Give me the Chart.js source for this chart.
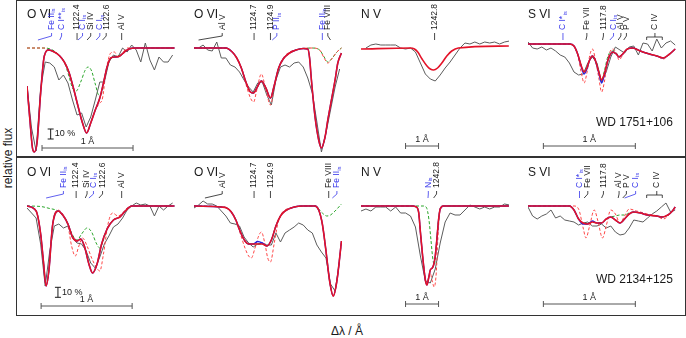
<!DOCTYPE html>
<html lang="en">
<head>
<meta charset="utf-8">
<title>Line fits WD 1751+106 / WD 2134+125</title>
<script src="https://cdn.jsdelivr.net/npm/chart.js@4.4.1/dist/chart.umd.min.js"></script>
<style>
  body { margin: 0; background: #fff; }
  #fig { position: relative; width: 686px; height: 338px; overflow: hidden;
         font-family: "Liberation Sans", Arial, Helvetica, sans-serif; color: #1a1a1a; }
  #fig canvas { position: absolute; }
  .frame { position: absolute; left: 16px; top: 0; width: 670px; height: 316px;
           border: 1.5px solid #333; box-sizing: border-box; }
  .divider { position: absolute; left: 16px; top: 156px; width: 670px; height: 1.5px; background: #333; }
  .ytitle { position: absolute; left: -42px; top: 151px; width: 100px; height: 14px; line-height: 14px;
            text-align: center; font-size: 12px; transform: rotate(-90deg); }
  .xtitle { position: absolute; left: 297px; top: 324px; width: 100px; height: 14px; line-height: 14px;
            text-align: center; font-size: 12px; }
</style>
</head>
<body>
<div id="fig">
  <div class="frame"></div>
  <div class="divider"></div>
  <div class="ytitle">relative flux</div>
  <div class="xtitle">&Delta;&lambda; / &Aring;</div>
</div>
<script>
// Wavelength grids (Å from the left edge of each panel)
const gridShort = [0, 0.05, 0.1, 0.15, 0.2, 0.25, 0.3, 0.35, 0.4, 0.45, 0.5, 0.55, 0.6, 0.65, 0.7, 0.75,
                   0.8, 0.85, 0.9, 0.95, 1.0, 1.05, 1.1, 1.15, 1.2, 1.25, 1.3, 1.35, 1.4, 1.45, 1.5, 1.55, 1.6];
const gridNV = [0, 0.15, 0.3, 0.45, 0.6, 0.75, 0.9, 1.05, 1.2, 1.35, 1.5, 1.65, 1.8, 1.95, 2.1, 2.25,
                2.4, 2.55, 2.7, 2.85, 3.0, 3.15, 3.3, 3.45, 3.6, 3.75, 3.9, 4.05, 4.2, 4.35, 4.5];

// Observed spectra (relative flux on the grids)
const obsA = [0.62, 0.2, -0.03, 0.6, 0.86, 0.85, 0.81, 0.68, 0.73, 0.65, 0.48, 0.33, 0.35, 0.21, 0.31, 0.48,
              0.66, 0.66, 0.86, 0.93, 0.91, 1.0, 0.96, 1.03, 0.98, 0.86, 1.05, 0.88, 0.78, 0.91, 0.86, 0.86, 0.93];
const obsB = [1.0, 1.0, 1.03, 0.98, 0.97, 1.06, 0.9, 0.9, 0.83, 0.81, 0.76, 0.68, 0.61, 0.56, 0.65, 0.66,
              0.53, 0.43, 0.68, 0.81, 0.83, 0.81, 0.85, 0.86, 0.81, 0.7, 0.55, 0.26, -0.04, 0.15, 0.38, 0.61, 0.79];
const obsC = [null, 1.0, 1.03, 1.04, 1.03, 1.03, 1.03, 1.03, 1.0, 0.99, 1.0, 0.96, 0.85, 0.74, 0.69, 0.67,
              0.73, 0.8, 0.86, 0.93, 1.0, 1.05, 1.04, 1.06, 1.04, 1.06, 1.05, 1.06, 1.04, 1.06, 1.07];
const obsD = [1.06, 1.0, 0.99, 1.01, 0.98, 1.0, 0.97, 0.93, 0.91, 0.85, 0.76, 0.73, 0.74, 0.85, 0.91, 0.85,
              0.66, 0.76, 0.91, 1.01, 0.98, 0.95, 1.01, 1.02, 0.93, 1.05, 1.04, 0.97, 1.09, 1.0, 1.05, 1.07, 1.03];
const obsE = [0.98, 0.93, 0.88, 0.62, 0.2, 0.55, 0.8, 0.82, 0.78, 0.8, 0.68, 0.63, 0.62, 0.55, 0.43, 0.38,
              0.49, 0.62, 0.7, 0.79, 0.82, 0.88, 0.96, 1.0, 1.03, 1.01, 1.02, 1.0, 0.9, 1.0, 0.96, 1.0, 1.03];
const obsF = [0.98, 1.01, 1.05, 1.02, 1.02, 1.0, 0.95, 0.9, 0.83, 0.82, 0.8, 0.69, 0.63, 0.59, 0.62, 0.63,
              0.61, 0.61, 0.73, 0.64, 0.73, 0.76, 0.79, 0.83, 0.81, 0.76, 0.73, 0.61, 0.54, 0.48, 0.22, 0.15, 0.45];
const obsG = [0.95, 0.97, 0.95, 0.99, 0.99, 0.99, 0.95, 0.99, 0.93, 0.93, 0.9, 0.79, 0.5, 0.25, 0.23, 0.37,
              0.63, 0.84, 0.93, 0.91, 0.91, 0.96, 1.01, 0.99, 0.97, 0.99, 0.97, 0.99, 0.99, 1.02, 1.01];
const obsH = [0.99, 0.9, 0.87, 0.9, 0.92, 0.96, 0.88, 0.9, 0.86, 0.85, 0.84, 0.81, 0.83, 0.84, 0.8, 0.8,
              0.82, 0.78, 0.8, 0.74, 0.71, 0.72, 0.78, 0.86, 0.85, 0.84, 0.88, 0.92, 0.95, 0.99, 1.03, 0.94, 0.96];

// Model spectra [Δλ, flux]: fit = red, dash = red dashed, green = green dashed, blue = blue
const fitA = [[0,0.62],[0.03,0.3],[0.06,0.0],[0.08,-0.04],[0.11,0.05],[0.15,0.55],[0.19,0.92],[0.24,0.98],
  [0.3,0.96],[0.36,0.92],[0.41,0.86],[0.46,0.76],[0.51,0.6],[0.56,0.42],[0.61,0.25],[0.655,0.15],[0.7,0.25],
  [0.75,0.38],[0.8,0.5],[0.84,0.65],[0.88,0.81],[0.92,0.9],[0.97,0.91],[1.02,0.92],[1.07,0.96],[1.12,0.99],
  [1.2,1.0],[1.62,1.0]];
const dashA = [[0,1.0],[0.18,1.0],[0.24,0.98],[0.3,0.96],[0.36,0.92],[0.41,0.86],[0.46,0.76],[0.51,0.6],
  [0.56,0.42],[0.61,0.25],[0.655,0.15],[0.7,0.25],[0.75,0.38],[0.79,0.44],[0.83,0.5],[0.87,0.78],[0.92,0.95],
  [0.96,0.96],[1.0,0.91],[1.05,0.95],[1.1,1.0],[1.62,1.0]];
const greenA = [[0,1.0],[0.2,1.0],[0.3,0.97],[0.36,0.92],[0.41,0.86],[0.46,0.72],[0.5,0.6],[0.54,0.57],
  [0.59,0.66],[0.64,0.78],[0.67,0.81],[0.71,0.77],[0.75,0.64],[0.79,0.53],[0.82,0.55],[0.86,0.73],[0.9,0.86],
  [0.95,0.91],[1.0,0.92],[1.07,0.96],[1.12,0.99],[1.2,1.0],[1.62,1.0]];

const fitB = [[0,1.0],[0.35,1.0],[0.42,0.96],[0.47,0.9],[0.52,0.8],[0.57,0.66],[0.62,0.56],[0.655,0.55],
  [0.69,0.6],[0.74,0.67],[0.79,0.6],[0.84,0.5],[0.88,0.62],[0.93,0.8],[0.98,0.89],[1.05,0.95],[1.12,0.98],
  [1.2,0.995],[1.25,0.99],[1.27,0.9],[1.29,0.68],[1.33,0.31],[1.37,0.08],[1.4,0.0],[1.44,0.11],[1.47,0.28],
  [1.51,0.48],[1.55,0.68],[1.58,0.85],[1.62,0.95]];
const dashB = [[0,1.0],[0.35,1.0],[0.42,0.96],[0.47,0.9],[0.52,0.8],[0.57,0.64],[0.62,0.5],[0.655,0.46],
  [0.69,0.58],[0.74,0.74],[0.79,0.58],[0.84,0.43],[0.88,0.6],[0.93,0.8],[0.98,0.9],[1.05,0.96],[1.12,0.98],
  [1.2,0.995],[1.3,1.0],[1.38,0.98],[1.43,0.9],[1.47,0.85],[1.52,0.9],[1.57,0.96],[1.62,1.0]];
const greenB = [[0,1.0],[0.35,1.0],[0.42,0.96],[0.47,0.9],[0.52,0.8],[0.57,0.66],[0.62,0.56],[0.655,0.55],
  [0.69,0.6],[0.74,0.67],[0.79,0.6],[0.84,0.5],[0.88,0.62],[0.93,0.8],[0.98,0.89],[1.05,0.95],[1.12,0.98],
  [1.2,0.995],[1.3,1.0],[1.38,0.98],[1.43,0.91],[1.47,0.86],[1.52,0.9],[1.57,0.96],[1.62,1.0]];

const fitC = [[0,0.99],[1.5,1.0],[1.62,0.99],[1.72,0.96],[1.85,0.89],[2.0,0.82],[2.1,0.79],[2.2,0.78],
  [2.32,0.8],[2.45,0.85],[2.6,0.92],[2.75,0.97],[2.95,1.0],[4.48,1.02]];

const fitD = [[0,1.04],[0.45,1.04],[0.5,1.02],[0.54,0.94],[0.58,0.82],[0.61,0.76],[0.64,0.8],[0.67,0.88],
  [0.7,0.92],[0.73,0.88],[0.77,0.76],[0.8,0.68],[0.83,0.74],[0.87,0.88],[0.92,0.96],[0.96,0.94],[0.99,0.91],
  [1.03,0.94],[1.08,0.99],[1.14,1.0],[1.22,0.97],[1.32,0.94],[1.4,0.92],[1.47,0.9],[1.54,0.94],[1.6,0.99]];
const dashD = [[0,1.04],[0.45,1.04],[0.5,1.02],[0.54,0.93],[0.58,0.75],[0.61,0.65],[0.64,0.75],[0.67,0.92],
  [0.7,0.99],[0.73,0.9],[0.77,0.7],[0.8,0.56],[0.83,0.66],[0.87,0.9],[0.92,0.99],[0.96,0.95],[0.99,0.88],
  [1.03,0.93],[1.08,0.99],[1.14,1.0],[1.22,0.97],[1.32,0.94],[1.4,0.92],[1.47,0.89],[1.54,0.94],[1.6,0.99]];
const greenD = [[0,1.04],[0.45,1.04],[0.5,1.02],[0.54,0.94],[0.58,0.82],[0.61,0.76],[0.64,0.8],[0.67,0.88],
  [0.7,0.92],[0.73,0.88],[0.77,0.76],[0.8,0.68],[0.83,0.77],[0.87,0.92],[0.92,0.97],[0.96,0.95],[0.99,0.92],
  [1.03,0.94],[1.08,0.99],[1.14,1.0],[1.22,0.97],[1.32,0.94],[1.4,0.92],[1.47,0.9],[1.54,0.94],[1.6,0.99]];
const blueD = [[0,1.04],[0.45,1.04],[0.5,1.02],[0.54,0.94],[0.58,0.81],[0.61,0.74],[0.64,0.79],[0.67,0.88],
  [0.7,0.92],[0.73,0.88],[0.77,0.75],[0.8,0.65],[0.83,0.73],[0.87,0.88],[0.92,0.96],[0.96,0.94],[0.99,0.91],
  [1.03,0.94],[1.08,0.99],[1.14,1.0],[1.22,0.97],[1.32,0.94],[1.4,0.92],[1.47,0.9],[1.54,0.94],[1.6,0.99]];

const fitE = [[0,1.0],[0.1,0.95],[0.15,0.72],[0.18,0.45],[0.21,0.2],[0.24,0.35],[0.28,0.8],[0.34,0.95],
  [0.4,0.9],[0.45,0.82],[0.5,0.69],[0.55,0.65],[0.59,0.67],[0.63,0.6],[0.68,0.42],[0.72,0.33],[0.77,0.42],
  [0.82,0.62],[0.88,0.77],[0.95,0.86],[1.02,0.89],[1.08,0.95],[1.15,1.0],[1.62,1.0]];
const dashE = [[0,1.0],[0.1,0.95],[0.15,0.72],[0.18,0.45],[0.21,0.2],[0.24,0.35],[0.28,0.8],[0.34,0.96],
  [0.4,0.91],[0.45,0.8],[0.49,0.6],[0.53,0.5],[0.57,0.6],[0.61,0.68],[0.66,0.6],[0.71,0.48],[0.76,0.39],
  [0.8,0.35],[0.84,0.52],[0.89,0.82],[0.94,0.93],[1.0,0.9],[1.05,0.93],[1.1,0.98],[1.2,1.0],[1.62,1.0]];
const greenE = [[0,1.0],[0.15,0.995],[0.25,0.975],[0.33,0.955],[0.4,0.9],[0.45,0.82],[0.5,0.71],[0.55,0.66],
  [0.6,0.72],[0.66,0.78],[0.71,0.74],[0.76,0.63],[0.8,0.58],[0.84,0.66],[0.88,0.77],[0.95,0.86],[1.02,0.89],
  [1.08,0.95],[1.15,1.0],[1.62,1.0]];

const fitF = [[0,1.0],[0.3,0.99],[0.36,0.98],[0.41,0.94],[0.46,0.86],[0.51,0.74],[0.56,0.65],[0.6,0.62],
  [0.65,0.62],[0.7,0.62],[0.75,0.62],[0.8,0.6],[0.85,0.66],[0.9,0.8],[0.95,0.9],[1.0,0.95],[1.1,0.99],
  [1.2,1.0],[1.33,1.0],[1.37,0.96],[1.41,0.82],[1.45,0.55],[1.49,0.25],[1.53,0.1],[1.57,0.25],[1.6,0.48],[1.62,0.65]];
const dashF = [[0,1.0],[0.3,0.99],[0.36,0.98],[0.41,0.94],[0.46,0.85],[0.51,0.72],[0.56,0.58],[0.6,0.5],
  [0.63,0.48],[0.67,0.58],[0.71,0.7],[0.74,0.74],[0.78,0.62],[0.81,0.48],[0.84,0.44],[0.88,0.62],[0.92,0.82],
  [0.96,0.92],[1.0,0.96],[1.1,0.99],[1.2,1.0],[1.33,1.0],[1.37,0.96],[1.41,0.82],[1.45,0.55],[1.49,0.25],
  [1.53,0.1],[1.57,0.25],[1.6,0.48],[1.62,0.65]];
const greenF = [[0,1.0],[0.3,0.99],[0.36,0.98],[0.41,0.94],[0.46,0.86],[0.51,0.74],[0.56,0.65],[0.6,0.62],
  [0.65,0.62],[0.7,0.62],[0.75,0.62],[0.8,0.6],[0.85,0.66],[0.9,0.8],[0.95,0.9],[1.0,0.95],[1.1,0.99],
  [1.2,1.0],[1.33,1.0],[1.37,0.97],[1.41,0.93],[1.46,0.9],[1.5,0.91],[1.55,0.95],[1.62,1.02]];
const blueF = [[0,1.0],[0.3,0.99],[0.36,0.98],[0.41,0.94],[0.46,0.86],[0.51,0.74],[0.56,0.65],[0.6,0.62],
  [0.65,0.62],[0.7,0.645],[0.75,0.63],[0.8,0.6],[0.85,0.66],[0.9,0.8],[0.95,0.9],[1.0,0.95],[1.1,0.99],
  [1.2,1.0],[1.33,1.0],[1.37,0.96],[1.41,0.82],[1.45,0.55],[1.49,0.25],[1.53,0.1],[1.57,0.25],[1.6,0.48],[1.62,0.65]];

const fitG = [[0,1.0],[1.55,1.0],[1.68,0.99],[1.75,0.93],[1.8,0.74],[1.87,0.49],[1.95,0.26],[2.0,0.21],
  [2.05,0.28],[2.1,0.36],[2.16,0.38],[2.2,0.41],[2.25,0.5],[2.3,0.67],[2.35,0.86],[2.4,0.97],[2.5,1.0],[4.48,1.0]];
const dashG = [[0,1.0],[1.55,1.0],[1.68,0.99],[1.75,0.93],[1.8,0.74],[1.87,0.49],[1.95,0.28],[2.0,0.23],
  [2.05,0.28],[2.1,0.33],[2.15,0.26],[2.22,0.19],[2.28,0.33],[2.33,0.68],[2.38,0.93],[2.45,1.0],[4.48,1.0]];
const greenG = [[0,1.0],[1.9,1.0],[1.99,0.98],[2.06,0.86],[2.12,0.66],[2.17,0.49],[2.22,0.41],[2.26,0.5],
  [2.3,0.67],[2.35,0.86],[2.4,0.97],[2.5,1.0],[4.48,1.0]];

const fitH = [[0,1.0],[0.45,1.0],[0.5,0.96],[0.55,0.87],[0.6,0.83],[0.65,0.82],[0.7,0.84],[0.75,0.83],
  [0.8,0.83],[0.85,0.87],[0.9,0.89],[0.95,0.86],[1.0,0.83],[1.05,0.87],[1.1,0.92],[1.15,0.94],[1.22,0.93],
  [1.3,0.91],[1.4,0.9],[1.46,0.89],[1.52,0.91],[1.57,0.95],[1.6,0.99]];
const dashH = [[0,1.0],[0.5,1.0],[0.55,0.97],[0.6,0.78],[0.63,0.68],[0.67,0.8],[0.72,0.96],[0.76,0.85],
  [0.81,0.68],[0.85,0.8],[0.9,0.96],[0.95,0.92],[1.0,0.83],[1.05,0.9],[1.1,0.97],[1.18,0.95],[1.3,0.92],
  [1.4,0.9],[1.47,0.87],[1.55,0.93],[1.6,0.99]];
const greenH = [[0,1.0],[0.45,1.0],[0.5,0.96],[0.55,0.87],[0.6,0.83],[0.65,0.82],[0.7,0.84],[0.75,0.83],
  [0.8,0.83],[0.85,0.87],[0.9,0.89],[0.95,0.9],[1.0,0.91],[1.05,0.91],[1.1,0.93],[1.15,0.94],[1.22,0.93],
  [1.3,0.91],[1.4,0.9],[1.46,0.89],[1.52,0.91],[1.57,0.95],[1.6,0.99]];
const blueH = [[0,1.0],[0.45,1.0],[0.5,0.96],[0.55,0.87],[0.6,0.82],[0.65,0.82],[0.7,0.85],[0.75,0.83],
  [0.8,0.83],[0.85,0.87],[0.9,0.89],[0.95,0.86],[1.0,0.83],[1.05,0.87],[1.1,0.92],[1.15,0.94],[1.22,0.93],
  [1.3,0.91],[1.4,0.9],[1.46,0.89],[1.52,0.91],[1.57,0.95],[1.6,0.99]];

// Line identifications: [name, subscript, line at (Å), label at (Å), colour b/k]
const idsA = [['Fe II','is',0.12,0.27,'b'], ['C I**','is',0.36,0.38,'b'], ['1122.4','',0.55,0.55,'k'],
  ['C I','is',0.56,0.61,'b'], ['Si IV','',0.66,0.7,'k'], ['C I','is',0.76,0.8,'b'],
  ['1122.6','',0.83,0.87,'k'], ['Al V','',1.04,1.04,'k']];
const idsB = [['Al V','',0.05,0.31,'k'], ['1124.7','',0.66,0.66,'k'], ['1124.9','',0.84,0.84,'k'],
  ['P II','is',0.86,0.91,'b'], ['Fe II','is',1.41,1.41,'b'], ['Fe VIII','',1.5,1.47,'k']];
const idsC = [['1242.8','',2.23,2.23,'k']];
const idsD = [['C I*','is',0.38,0.38,'b'], ['Fe VII','',0.63,0.64,'k'], ['1117.8','',0.81,0.82,'k'],
  ['C I','is',0.89,0.93,'b'], ['Al V','',0.98,1.01,'k'], ['P V','',1.04,1.07,'k']];
const idsE = [['Fe II','is',0.21,0.4,'b'], ['1122.4','',0.54,0.54,'k'], ['Si IV','',0.64,0.66,'k'],
  ['C I','is',0.68,0.73,'b'], ['1122.6','',0.79,0.83,'k'], ['Al V','',1.04,1.04,'k']];
const idsF = [['Al V','',0.12,0.31,'k'], ['1124.7','',0.66,0.66,'k'], ['1124.9','',0.84,0.84,'k'],
  ['Fe VIII','',1.48,1.48,'k'], ['Fe II','is',1.52,1.57,'b']];
const idsG = [['N','is',2.03,2.04,'b'], ['1242.8','',2.2,2.29,'k']];
const idsH = [['C I*','is',0.56,0.56,'b'], ['Fe VII','',0.61,0.65,'k'], ['1117.8','',0.8,0.82,'k'],
  ['Al V','',0.98,0.99,'k'], ['P V','',1.03,1.07,'k'], ['C I','is',1.05,1.17,'b']];

// Layout
const FONT = '"Liberation Sans", Arial, Helvetica, sans-serif';
const INK = '#1a1a1a';
const ID_BLUE = 'rgb(55,55,235)';
const RED = 'rgb(228,18,40)';
const BLUE = 'rgb(35,35,225)';
const PINK = 'rgb(255,70,70)';
const GREEN = 'rgb(40,165,40)';
const GRAY = '#5c5c5c';
const colLeft = [27, 194, 361, 528];
const colSpan = [1.626, 1.626, 4.485, 1.609];
const rowTop = [1, 159];
const panelW = 148, panelH = 155;

function pairs(grid, values) {
    return grid.map((w, i) => [w, values[i]]);
}

function curve(data, color, width, dash) {
    return {
        data, borderColor: color, borderWidth: width, borderDash: dash || [],
        pointRadius: 0, fill: false, cubicInterpolationMode: 'monotone'
    };
}

// Labels, scale bars and star names drawn over each panel
function decor(p) {
    return {
        id: 'decor',
        afterDatasetsDraw(chart) {
            const ctx = chart.ctx;
            const x = chart.scales.x, y = chart.scales.y;
            const cont = y.getPixelForValue(1);
            ctx.save();
            ctx.textBaseline = 'middle';

            // Ion name
            ctx.fillStyle = INK;
            ctx.font = '12px ' + FONT;
            ctx.textAlign = 'left';
            ctx.fillText(p.ion, 0, cont - 33.5);

            // Line identifications
            p.ids.forEach(([name, sub, lineAt, textAt, tone]) => {
                const x0 = x.getPixelForValue(lineAt);
                const x1 = x.getPixelForValue(textAt);
                const color = tone === 'b' ? ID_BLUE : INK;
                ctx.strokeStyle = color;
                ctx.lineWidth = 0.8;
                ctx.beginPath();
                ctx.moveTo(x0, cont - 8);
                ctx.lineTo(x1, cont - 12);
                ctx.lineTo(x1, cont - 15);
                ctx.stroke();
                ctx.save();
                ctx.translate(x1, cont - 18);
                ctx.rotate(-Math.PI / 2);
                ctx.fillStyle = color;
                ctx.font = '8.5px ' + FONT;
                ctx.textAlign = 'left';
                ctx.fillText(name, 0, 0);
                if (sub) {
                    const w = ctx.measureText(name).width;
                    ctx.font = '5.5px ' + FONT;
                    ctx.fillText(sub, w + 0.5, 2.2);
                }
                ctx.restore();
            });

            // C IV bracket
            if (p.bracket) {
                const b = p.bracket;
                const xa = x.getPixelForValue(b.from), xb = x.getPixelForValue(b.to), xc = x.getPixelForValue(b.at);
                ctx.strokeStyle = INK;
                ctx.lineWidth = 0.8;
                ctx.beginPath();
                ctx.moveTo(xa, cont - 8); ctx.lineTo(xa, cont - 11); ctx.lineTo(xb, cont - 11); ctx.lineTo(xb, cont - 8);
                ctx.moveTo(xc, cont - 11); ctx.lineTo(xc, cont - 15);
                ctx.stroke();
                ctx.save();
                ctx.translate(xc, cont - 18);
                ctx.rotate(-Math.PI / 2);
                ctx.fillStyle = INK;
                ctx.font = '8.5px ' + FONT;
                ctx.fillText(b.text, 0, 0);
                ctx.restore();
            }

            // 10 % flux bar
            if (p.tenPct) {
                const xp = x.getPixelForValue(p.tenPct.at);
                const ya = y.getPixelForValue(p.tenPct.from), yb = y.getPixelForValue(p.tenPct.from + 0.1);
                ctx.strokeStyle = INK;
                ctx.lineWidth = 1;
                ctx.beginPath();
                ctx.moveTo(xp, ya); ctx.lineTo(xp, yb);
                ctx.moveTo(xp - 3, ya); ctx.lineTo(xp + 3, ya);
                ctx.moveTo(xp - 3, yb); ctx.lineTo(xp + 3, yb);
                ctx.stroke();
                ctx.fillStyle = INK;
                ctx.font = '9px ' + FONT;
                ctx.textAlign = 'left';
                ctx.fillText('10 %', xp + 4, (ya + yb) / 2);
            }

            // 1 Å bar
            if (p.angBar) {
                const xa = x.getPixelForValue(p.angBar.from), xb = x.getPixelForValue(p.angBar.from + 1);
                const yp = y.getPixelForValue(p.angBar.at);
                ctx.strokeStyle = '#555';
                ctx.lineWidth = 1;
                ctx.beginPath();
                ctx.moveTo(xa, yp); ctx.lineTo(xb, yp);
                ctx.moveTo(xa, yp - 3); ctx.lineTo(xa, yp + 3);
                ctx.moveTo(xb, yp - 3); ctx.lineTo(xb, yp + 3);
                ctx.stroke();
                ctx.fillStyle = INK;
                ctx.font = '9px ' + FONT;
                ctx.textAlign = 'center';
                ctx.fillText('1 Å', (xa + xb) / 2, yp - 6);
            }

            // Star name
            if (p.star) {
                ctx.fillStyle = INK;
                ctx.font = '12px ' + FONT;
                ctx.textAlign = 'right';
                ctx.fillText(p.star.text, x.getPixelForValue(p.star.at), y.getPixelForValue(p.star.f));
            }
            ctx.restore();
        }
    };
}

// Build one panel
function crearPanel(col, row, p) {
    const canvas = document.createElement('canvas');
    canvas.width = panelW;
    canvas.height = panelH;
    canvas.style.left = colLeft[col] + 'px';
    canvas.style.top = rowTop[row] + 'px';
    document.getElementById('fig').appendChild(canvas);

    const datasets = [curve(p.fit, RED, 1.6)];
    if (p.blue) datasets.push(curve(p.blue, BLUE, 1.4));
    if (p.dash) datasets.push(curve(p.dash, PINK, 1, [3, 2]));
    if (p.green) datasets.push(curve(p.green, GREEN, 1, [3, 2]));
    datasets.push({
        data: pairs(p.grid, p.obs), borderColor: GRAY, borderWidth: 1,
        pointRadius: 0, fill: false, tension: 0
    });

    new Chart(canvas, {
        type: 'line',
        data: { datasets },
        options: {
            responsive: false,
            animation: false,
            devicePixelRatio: 1,
            events: [],
            layout: { padding: 0 },
            plugins: { legend: { display: false }, tooltip: { enabled: false } },
            scales: {
                x: { type: 'linear', min: 0, max: colSpan[col], display: false },
                y: { type: 'linear', min: -0.08, max: 1.47, display: false }
            }
        },
        plugins: [decor(p)]
    });
}

// WD 1751+106
crearPanel(0, 0, { ion: 'O VI', grid: gridShort, obs: obsA, fit: fitA, blue: fitA, dash: dashA, green: greenA,
    ids: idsA, tenPct: { at: 0.26, from: 0.09 }, angBar: { from: 0.165, at: 0.0 } });
crearPanel(1, 0, { ion: 'O VI', grid: gridShort, obs: obsB, fit: fitB, blue: fitB, dash: dashB, green: greenB,
    ids: idsB });
crearPanel(2, 0, { ion: 'N V', grid: gridNV, obs: obsC, fit: fitC, ids: idsC,
    angBar: { from: 1.35, at: 0.02 } });
crearPanel(3, 0, { ion: 'S VI', grid: gridShort, obs: obsD, fit: fitD, blue: blueD, dash: dashD, green: greenD,
    ids: idsD, bracket: { from: 1.29, to: 1.46, at: 1.38, text: 'C IV' },
    angBar: { from: 0.167, at: 0.02 }, star: { text: 'WD 1751+106', at: 1.576, f: 0.25 } });

// WD 2134+125
crearPanel(0, 1, { ion: 'O VI', grid: gridShort, obs: obsE, fit: fitE, blue: fitE, dash: dashE, green: greenE,
    ids: idsE, tenPct: { at: 0.34, from: 0.087 }, angBar: { from: 0.155, at: 0.0 } });
crearPanel(1, 1, { ion: 'O VI', grid: gridShort, obs: obsF, fit: fitF, blue: blueF, dash: dashF, green: greenF,
    ids: idsF });
crearPanel(2, 1, { ion: 'N V', grid: gridNV, obs: obsG, fit: fitG, blue: fitG, dash: dashG, green: greenG,
    ids: idsG, angBar: { from: 1.35, at: 0.02 } });
crearPanel(3, 1, { ion: 'S VI', grid: gridShort, obs: obsH, fit: fitH, blue: blueH, dash: dashH, green: greenH,
    ids: idsH, bracket: { from: 1.29, to: 1.46, at: 1.4, text: 'C IV' },
    angBar: { from: 0.167, at: 0.02 }, star: { text: 'WD 2134+125', at: 1.576, f: 0.26 } });
</script>
</body>
</html>
